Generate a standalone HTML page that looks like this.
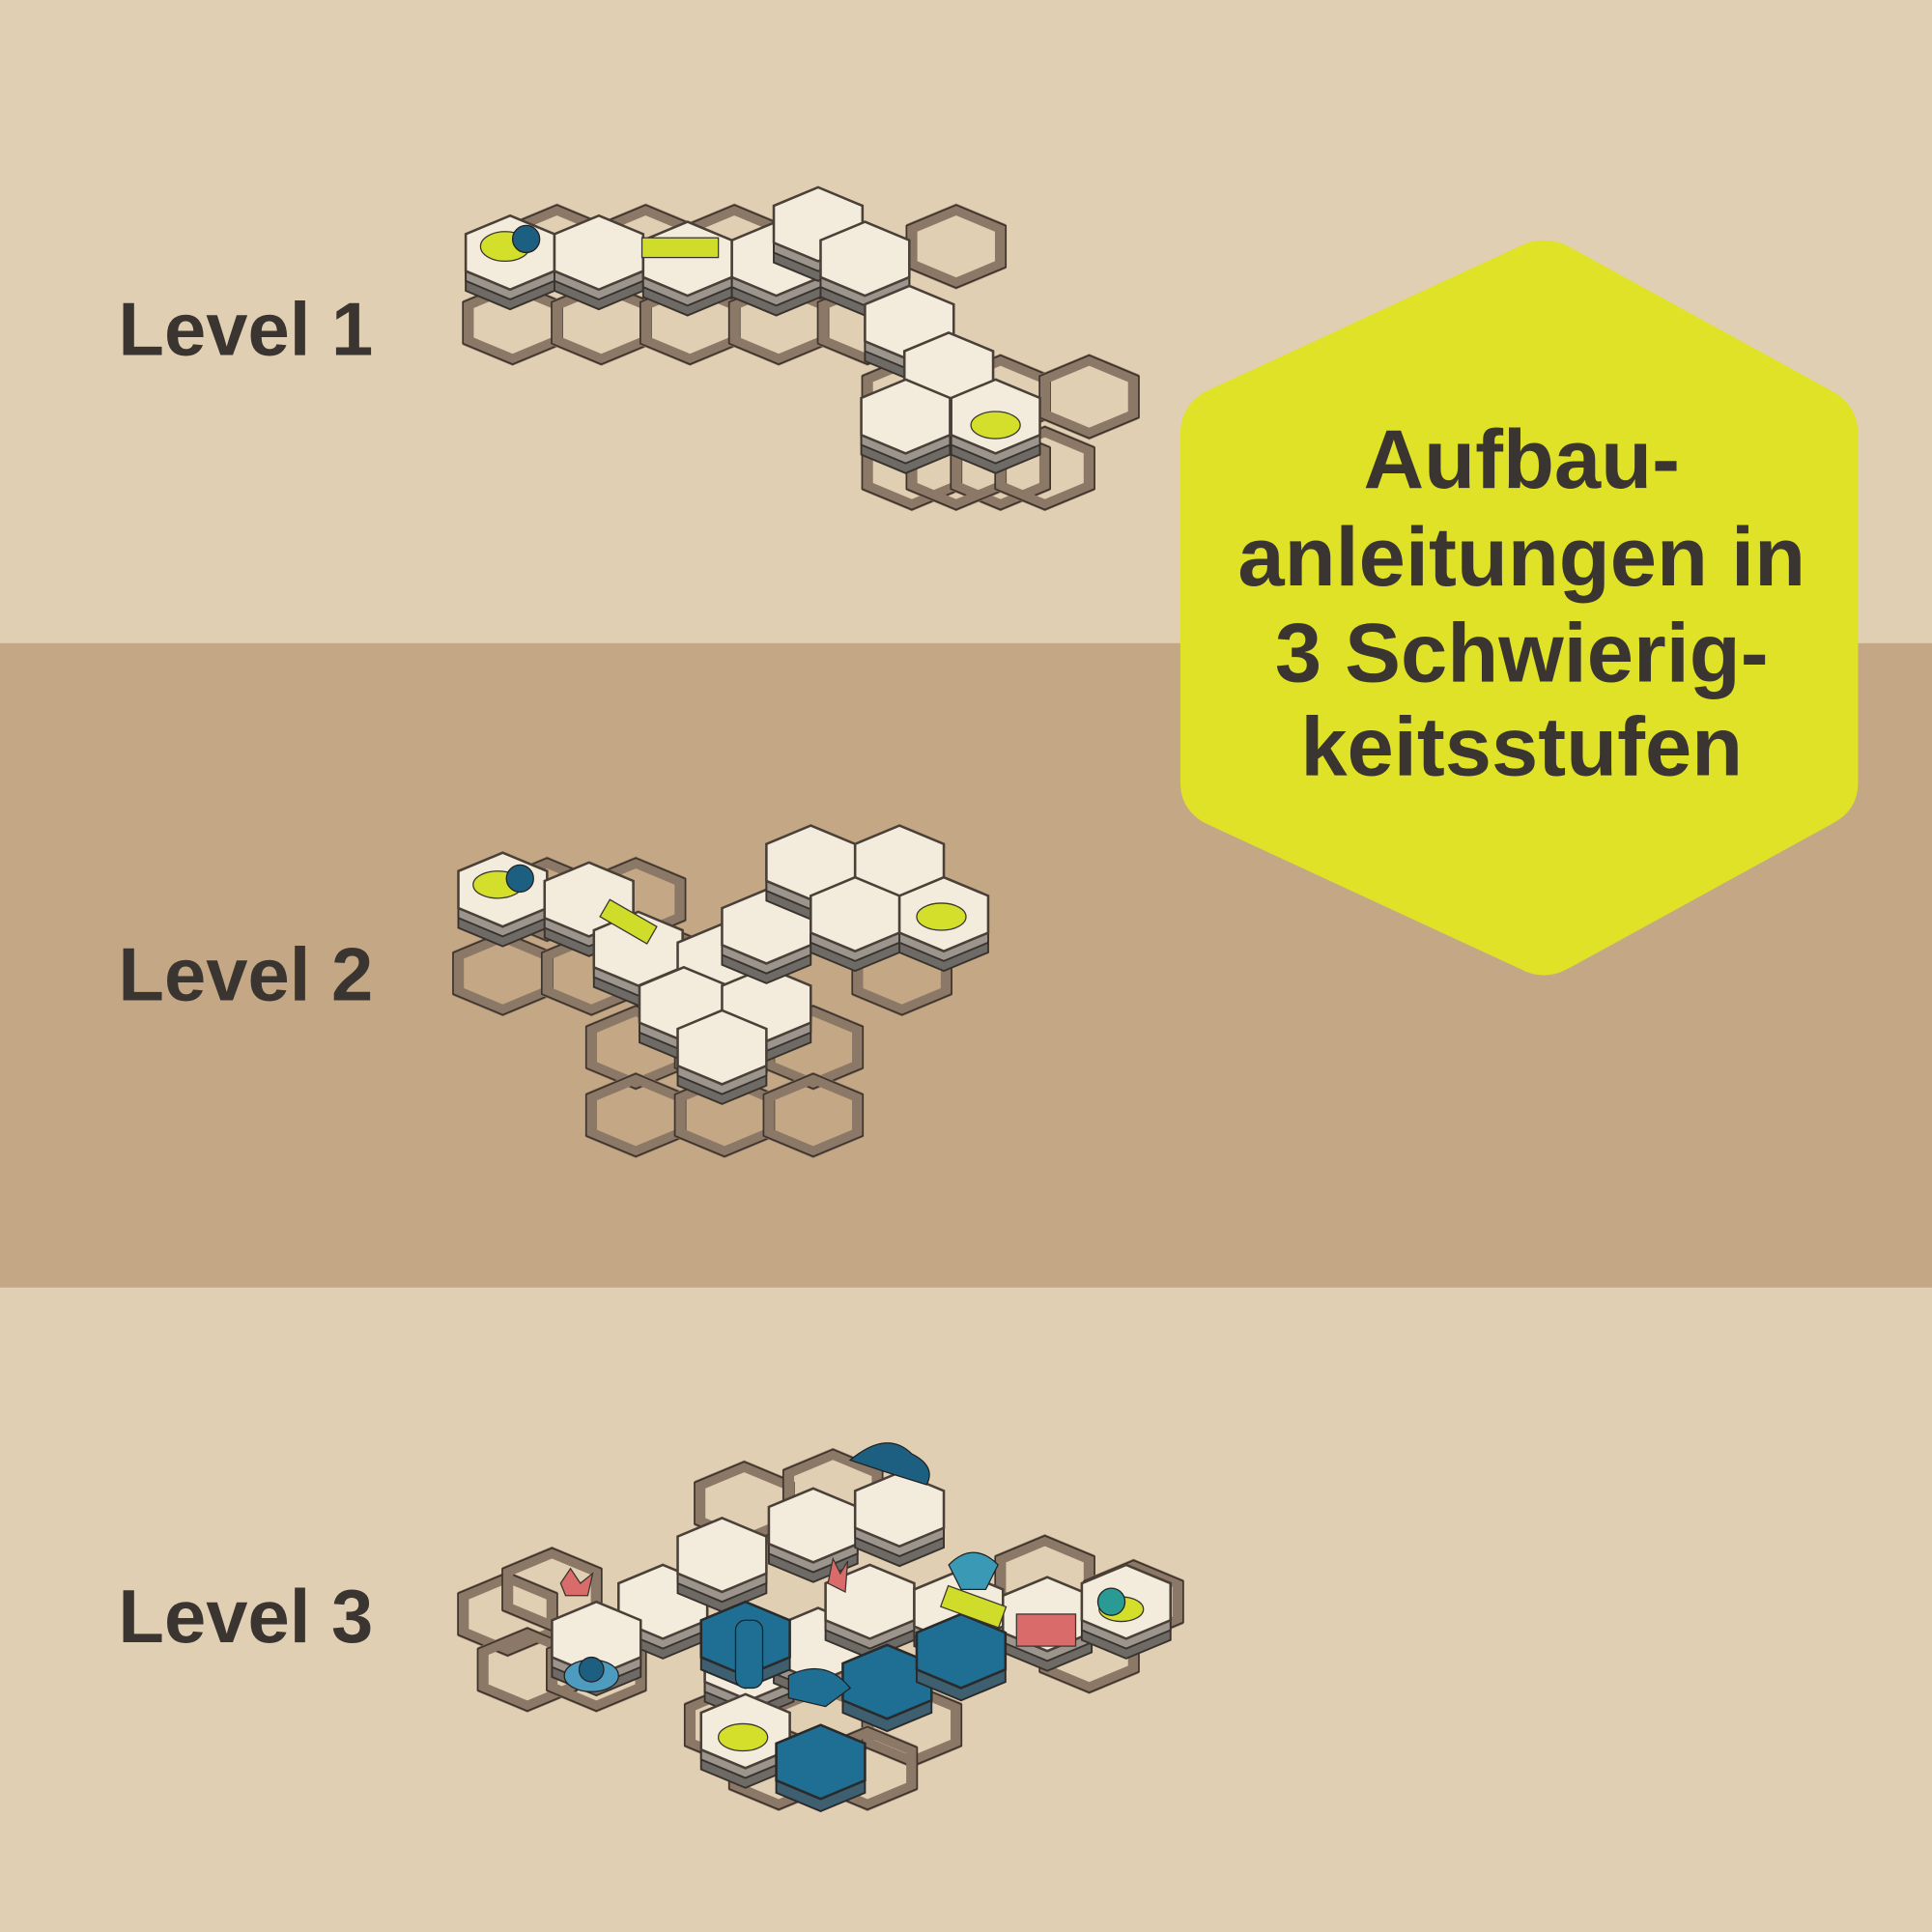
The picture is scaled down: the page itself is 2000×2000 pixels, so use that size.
<!DOCTYPE html>
<html><head><meta charset="utf-8"><style>
html,body{margin:0;padding:0;width:2000px;height:2000px;overflow:hidden;background:#e0cfb3}
svg{display:block}
</style></head><body>
<svg width="2000" height="2000" viewBox="0 0 1568 1568" xmlns="http://www.w3.org/2000/svg">
<defs>
<polygon id="h" points="0,-30 36,-15 36,15 0,30 -36,15 -36,-15"/>
<g id="fr"><use href="#h" fill="none" stroke="#8b7867" stroke-width="9"/><use href="#h" fill="none" stroke="#3e342c" stroke-width="1.2" transform="scale(1.12)"/></g>
<g id="t"><use href="#h" y="16" fill="#6e6a66" stroke="#3a332d" stroke-width="1.5"/><use href="#h" y="8" fill="#9b958d" stroke="#3a332d" stroke-width="1.5"/><use href="#h" fill="#f3ecdc" stroke="#4a4038" stroke-width="2"/></g>
<g id="tb"><use href="#h" y="10" fill="#3d5f70" stroke="#2a2a2a" stroke-width="1.5"/><use href="#h" fill="#1f6e93" stroke="#2a2a2a" stroke-width="2"/></g>
</defs>
<rect x="0" y="0" width="1568" height="522" fill="#e0cfb3"/>
<rect x="0" y="522" width="1568" height="523" fill="#c4a886"/>
<rect x="0" y="1045" width="1568" height="523" fill="#e0cfb3"/>

<g font-family="Liberation Sans, sans-serif" font-weight="bold" fill="#3a3530" font-size="61">
<text x="96" y="288">Level 1</text>
<text x="96" y="812">Level 2</text>
<text x="96" y="1333">Level 3</text>
</g>

<path d="M1233,200 Q1253,190 1273,200 L1488,318 Q1508,330 1508,352 L1508,635 Q1508,657 1488,668 L1273,786 Q1253,797 1233,786 L978,668 Q958,657 958,635 L958,352 Q958,330 978,318 Z" fill="#dfe226"/>
<g font-family="Liberation Sans, sans-serif" font-weight="bold" fill="#3a3530" font-size="68" text-anchor="middle">
<text x="1235" y="396">Aufbau-</text>
<text x="1235" y="475">anleitungen in</text>
<text x="1235" y="553">3 Schwierig-</text>
<text x="1235" y="629">keitsstufen</text>
</g>

<g>
<use href="#fr" x="416" y="262"/><use href="#fr" x="488" y="262"/><use href="#fr" x="560" y="262"/><use href="#fr" x="632" y="262"/><use href="#fr" x="704" y="262"/>
<use href="#fr" x="452" y="200"/><use href="#fr" x="524" y="200"/><use href="#fr" x="596" y="200"/><use href="#fr" x="776" y="200"/>
<use href="#fr" x="740" y="322"/><use href="#fr" x="812" y="322"/><use href="#fr" x="884" y="322"/>
<use href="#fr" x="740" y="380"/><use href="#fr" x="812" y="380"/><use href="#fr" x="776" y="380"/><use href="#fr" x="848" y="380"/>
<use href="#t" x="414" y="205"/><use href="#t" x="486" y="205"/><use href="#t" x="558" y="210"/><use href="#t" x="630" y="210"/>
<use href="#t" x="664" y="182"/><use href="#t" x="702" y="210"/><use href="#t" x="738" y="262"/><use href="#t" x="770" y="300"/>
<use href="#t" x="735" y="338"/><use href="#t" x="808" y="338"/>
<ellipse cx="410" cy="200" rx="20" ry="12" fill="#d3df2a" stroke="#3a3530"/>
<circle cx="427" cy="194" r="11" fill="#1d5f80" stroke="#222"/>
<rect x="521" y="193" width="62" height="16" fill="#cfdc29" stroke="#3a3530"/>
<ellipse cx="808" cy="345" rx="20" ry="11" fill="#d3df2a" stroke="#3a3530"/>
</g>

<g>
<use href="#fr" x="408" y="790"/><use href="#fr" x="480" y="790"/><use href="#fr" x="732" y="790"/><use href="#fr" x="444" y="730"/><use href="#fr" x="516" y="730"/><use href="#fr" x="552" y="790"/>
<use href="#fr" x="516" y="850"/><use href="#fr" x="588" y="850"/><use href="#fr" x="660" y="850"/>
<use href="#fr" x="516" y="905"/><use href="#fr" x="588" y="905"/><use href="#fr" x="660" y="905"/>
<use href="#t" x="408" y="722"/><use href="#t" x="478" y="730"/><use href="#t" x="518" y="770"/><use href="#t" x="586" y="780"/>
<use href="#t" x="555" y="815"/><use href="#t" x="622" y="815"/><use href="#t" x="586" y="850"/>
<use href="#t" x="622" y="752"/><use href="#t" x="658" y="700"/><use href="#t" x="730" y="700"/><use href="#t" x="694" y="742"/><use href="#t" x="766" y="742"/>
<ellipse cx="404" cy="718" rx="20" ry="11" fill="#d3df2a" stroke="#3a3530"/>
<circle cx="422" cy="713" r="11" fill="#1d5f80" stroke="#222"/>
<rect x="488" y="740" width="44" height="16" transform="rotate(30 510 748)" fill="#cfdc29" stroke="#3a3530"/>
<ellipse cx="764" cy="744" rx="20" ry="11" fill="#d3df2a" stroke="#3a3530"/>
</g>

<g>
<use href="#fr" x="412" y="1310"/><use href="#fr" x="428" y="1355"/><use href="#fr" x="484" y="1355"/><use href="#fr" x="448" y="1290"/>
<use href="#fr" x="596" y="1400"/><use href="#fr" x="668" y="1400"/><use href="#fr" x="740" y="1400"/><use href="#fr" x="632" y="1435"/><use href="#fr" x="704" y="1435"/>
<use href="#fr" x="848" y="1280"/><use href="#fr" x="920" y="1300"/><use href="#fr" x="884" y="1340"/>
<use href="#fr" x="604" y="1220"/><use href="#fr" x="676" y="1210"/>
<use href="#t" x="538" y="1300"/><use href="#t" x="586" y="1262"/><use href="#t" x="660" y="1238"/><use href="#t" x="730" y="1225"/>
<use href="#t" x="608" y="1350"/><use href="#t" x="664" y="1335"/><use href="#t" x="605" y="1405"/>
<use href="#t" x="484" y="1330"/><use href="#t" x="706" y="1300"/><use href="#t" x="778" y="1305"/><use href="#t" x="850" y="1310"/><use href="#t" x="914" y="1300"/>
<use href="#tb" x="605" y="1330"/><use href="#tb" x="720" y="1365"/><use href="#tb" x="666" y="1430"/><use href="#tb" x="780" y="1340"/>
<ellipse cx="603" cy="1410" rx="20" ry="11" fill="#d3df2a" stroke="#3a3530"/>
<ellipse cx="910" cy="1306" rx="18" ry="10" fill="#d3df2a" stroke="#3a3530"/>
<circle cx="902" cy="1300" r="11" fill="#2a9a95" stroke="#222"/>
<ellipse cx="480" cy="1360" rx="22" ry="13" fill="#4d9cc0" stroke="#222"/>
<circle cx="480" cy="1355" r="10" fill="#1d5f80" stroke="#222"/>
<rect x="765" y="1295" width="50" height="18" transform="rotate(20 790 1304)" fill="#cfdc29" stroke="#3a3530"/>
<rect x="825" y="1310" width="48" height="26" fill="#d96b6b" stroke="#3a3530"/>
<path d="M690,1185 Q720,1160 740,1180 Q760,1190 752,1205 L720,1195 Z" fill="#1d5f80" stroke="#222"/>
<path d="M770,1270 Q790,1250 810,1270 L800,1290 L780,1290 Z" fill="#3a9ab5" stroke="#222"/>
<rect x="597" y="1315" width="22" height="55" rx="8" fill="#1f6e93" stroke="#222"/>
<path d="M640,1360 Q670,1345 690,1370 L670,1385 L640,1378 Z" fill="#1f6e93" stroke="#222"/>
<path d="M455,1285 l8,-12 l8,12 l10,-8 l-4,18 l-18,0 Z" fill="#d96b6b" stroke="#3a3530"/>
<path d="M672,1285 l4,-20 l6,12 l6,-10 l-2,25 Z" fill="#d96b6b" stroke="#3a3530"/>
</g>
</svg>
</body></html>
